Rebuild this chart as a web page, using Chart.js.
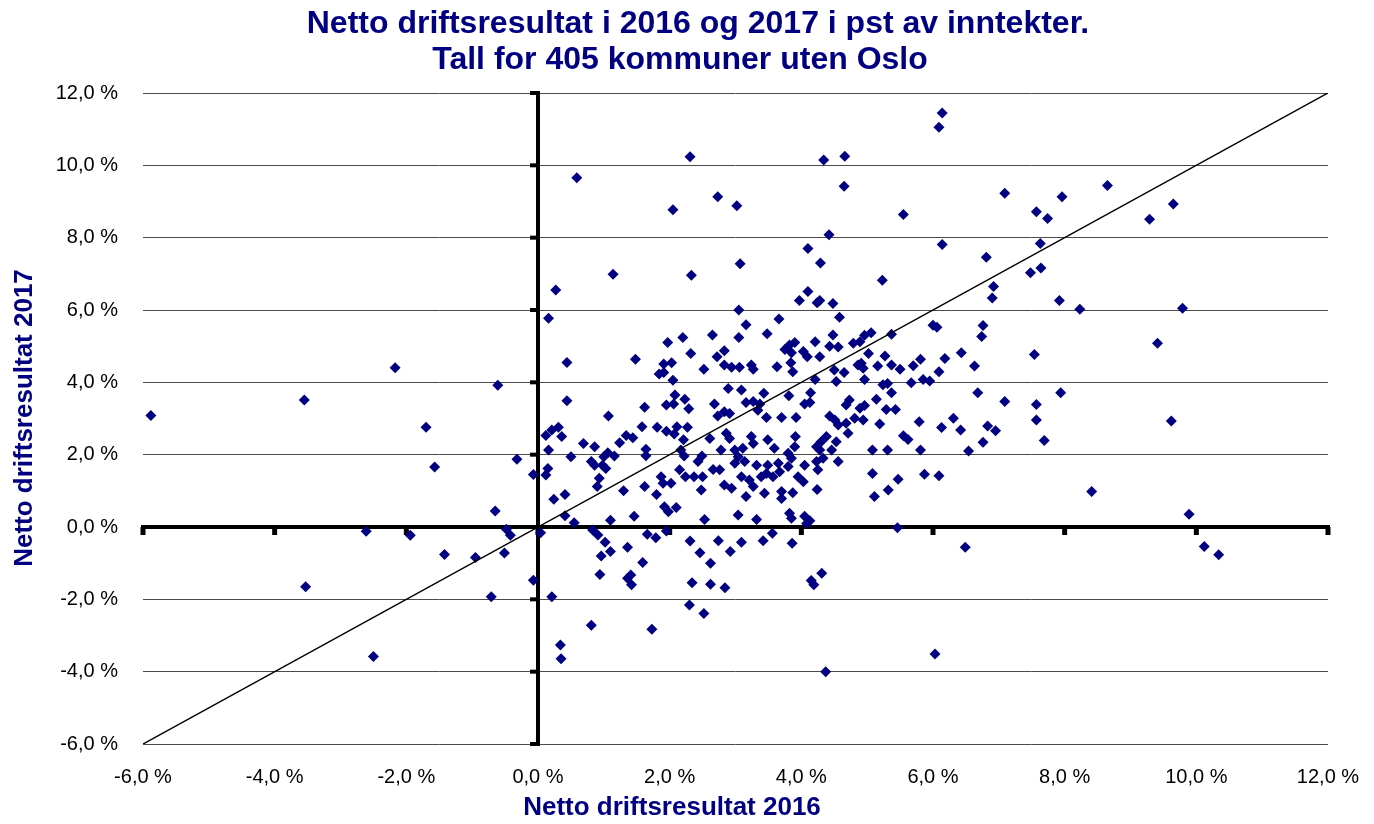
<!DOCTYPE html>
<html>
<head>
<meta charset="utf-8">
<script src="https://cdn.jsdelivr.net/npm/chart.js@4/dist/chart.umd.min.js"></script>
<style>
html,body{margin:0;padding:0;background:#fff;}
canvas{display:block;}
</style>
</head>
<body>
<canvas id="c" width="1374" height="824"></canvas>
<script>
const titleLines = ['Netto driftsresultat i 2016 og 2017 i pst av inntekter.', 'Tall for 405 kommuner uten Oslo'];
const xAxisTitle = 'Netto driftsresultat 2016';
const yAxisTitle = 'Netto driftsresultat 2017';
const tickValues = [-6, -4, -2, 0, 2, 4, 6, 8, 10, 12];
const tickLabels = ['-6,0 %', '-4,0 %', '-2,0 %', '0,0 %', '2,0 %', '4,0 %', '6,0 %', '8,0 %', '10,0 %', '12,0 %'];
const diagonalEnds = [-6, 12];

// Netto driftsresultat 2016 (x) and 2017 (y), per kommune, in percent
const result2016 = [
-5.88,-3.55,-2.17,-1.70,-1.57,-0.61,-0.32,-0.07,-0.65,-2.61,-1.94,-0.48,-0.42,-1.42,-0.95,-0.51,-0.07,-3.53,-0.71,-2.50,
2.31,0.59,2.05,1.14,2.33,0.27,0.16,
1.97,2.20,2.32,0.44,1.48,1.91,2.03,1.84,1.91,2.05,2.52,0.44,1.07,1.62,2.08,1.95,2.06,2.23,2.29,0.12,0.21,0.31,0.36,0.16,0.69,0.86,0.50,1.24,1.34,1.44,1.58,1.64,1.64,1.81,1.95,2.07,2.11,2.27,2.21,2.17,2.22,2.49,1.00,1.06,1.16,0.81,0.86,0.98,1.03,0.93,0.90,0.15,0.12,0.41,0.24,1.30,1.62,1.80,1.87,1.90,2.02,2.15,2.24,2.37,2.50,2.48,2.43,
0.41,0.55,1.10,1.46,1.92,1.98,2.10,2.53,0.04,0.83,0.91,1.02,0.96,1.10,1.36,1.66,1.79,1.95,1.59,0.94,1.36,1.41,1.42,2.31,2.46,2.34,0.21,2.30,2.52,0.81,1.73,0.34,0.35,
4.34,4.66,2.73,3.02,4.65,4.42,4.10,4.29,3.07,4.10,3.97,4.28,4.24,4.48,4.58,3.05,3.16,3.66,2.65,3.05,3.48,
2.83,2.72,2.83,2.94,3.06,3.24,3.27,3.63,3.75,3.82,3.90,3.85,3.84,3.87,4.03,4.09,4.21,4.28,4.48,4.43,4.56,4.79,4.89,4.91,4.50,4.65,4.21,4.53,4.96,2.89,3.09,3.43,3.81,4.14,2.68,3.16,3.27,3.37,3.34,4.05,4.13,2.73,2.83,2.91,3.47,3.70,3.92,4.73,4.68,4.89,4.43,4.51,4.56,4.68,4.81,4.71,4.53,4.94,2.61,2.86,2.91,3.24,3.27,3.49,3.59,3.91,3.90,3.80,3.85,4.23,4.30,4.38,4.28,4.33,4.23,4.46,4.56,4.05,4.25,2.78,2.99,3.04,3.11,2.99,3.14,3.32,3.49,3.65,3.67,3.80,3.95,4.03,2.66,2.76,3.09,3.21,3.39,3.47,3.57,3.27,2.83,2.94,3.16,3.44,3.70,3.70,4.24,
3.87,3.04,3.32,3.82,3.85,4.05,4.13,4.08,2.74,3.09,3.42,3.56,3.86,2.92,2.62,2.62,2.84,4.31,4.15,4.19,4.37,
6.14,6.09,7.09,5.55,6.14,6.81,5.23,6.92,6.90,6.00,6.06,6.76,6.74,4.96,5.06,5.37,
5.02,5.27,4.86,4.94,5.16,5.37,5.50,5.70,5.81,6.18,6.43,6.63,6.09,5.24,5.31,5.37,5.67,5.85,5.95,6.68,7.09,5.14,5.29,5.43,4.96,5.19,5.79,6.13,6.31,6.42,6.83,6.95,5.55,5.62,6.76,5.08,5.31,5.81,6.54,5.08,5.47,5.87,6.09,5.32,5.11,
5.46,6.49,6.03,
8.65,7.96,7.57,7.74,9.29,9.65,7.63,7.48,7.64,7.92,8.23,9.79,9.41,7.54,7.57,7.94,
7.57,7.69,9.62,8.41,9.89,10.12,10.34
];
const result2017 = [
3.08,3.51,4.40,2.76,1.66,3.92,1.87,1.45,0.44,-0.12,-0.23,-0.06,-0.23,-0.76,-0.84,-0.72,-1.47,-1.65,-1.93,-3.58,
10.24,9.66,8.77,6.99,6.96,6.55,5.77,
5.10,5.24,4.80,4.55,4.64,4.51,4.54,4.23,4.27,4.06,4.36,3.49,3.07,3.31,3.65,3.37,3.40,3.53,3.27,2.53,2.68,2.76,2.50,2.13,2.31,2.22,1.94,2.33,2.53,2.47,2.77,2.15,1.97,2.76,2.65,2.57,2.77,2.76,2.41,2.13,1.96,1.96,1.94,2.05,1.96,1.81,1.71,1.71,1.62,1.35,1.12,1.62,1.44,0.90,0.77,1.00,1.12,0.90,1.39,1.21,1.21,1.58,1.39,1.39,1.39,1.02,1.81,
0.31,0.12,0.19,0.30,0.56,0.42,0.54,0.21,-0.16,-0.08,-0.22,-0.42,-0.80,-0.68,-0.56,-0.20,-0.30,-0.11,-0.98,-1.31,-1.42,-1.33,-1.60,-0.39,-0.71,-1.54,-1.93,-2.16,-2.39,-2.72,-2.83,-3.26,-3.64,
10.15,10.25,9.13,8.88,9.42,8.08,7.70,7.30,7.28,6.51,6.26,6.26,6.20,6.18,5.80,6.00,5.59,5.75,5.31,5.24,5.34,
4.87,4.71,4.48,4.42,4.42,4.48,4.36,4.43,4.91,5.03,5.10,4.82,4.54,4.29,4.85,4.71,5.12,4.71,5.31,5.00,4.98,5.08,5.12,4.53,4.34,4.27,4.08,4.02,4.08,3.83,3.79,3.70,3.63,3.71,3.40,3.44,3.47,3.40,3.23,3.40,3.44,3.07,3.19,3.14,3.03,3.03,3.03,3.51,3.37,3.28,3.07,2.96,2.82,2.87,3.01,2.59,2.36,2.96,2.45,2.59,2.45,2.50,2.31,2.41,2.18,2.50,2.22,2.04,1.90,2.22,2.36,2.50,2.13,1.90,1.81,2.13,1.81,1.71,1.58,2.13,2.13,1.94,2.18,1.76,1.81,1.71,1.71,1.76,1.53,1.67,1.39,1.25,1.59,1.58,1.39,1.30,1.39,1.48,1.39,1.12,1.16,1.07,0.84,0.93,0.98,0.79,1.04,
0.95,0.33,0.21,0.38,0.24,0.30,0.17,0.10,-0.38,-0.42,-0.38,-0.17,-0.45,-0.68,-1.00,-1.58,-1.68,-1.28,-1.48,-1.60,-4.00,
11.45,11.05,9.23,8.64,7.81,7.46,6.82,6.65,6.33,5.58,5.52,5.57,5.27,5.30,5.37,5.33,
4.80,4.73,4.48,4.39,4.45,4.48,4.36,4.46,4.64,4.66,4.82,4.45,4.29,3.93,3.97,3.71,3.99,4.08,4.04,3.71,3.47,3.53,3.25,3.25,3.36,2.85,2.91,2.75,3.01,2.68,2.79,2.66,2.52,2.42,2.34,2.13,2.13,2.13,2.10,1.48,1.32,1.46,1.42,1.02,0.84,
-0.02,-0.56,-3.51,
9.44,9.13,8.72,8.53,8.51,8.93,7.84,7.03,7.16,6.26,6.02,6.05,5.08,4.77,3.39,3.71,
2.96,2.39,2.93,0.98,0.35,-0.54,-0.77
];

const NAVY = '#000080';
const FONT = 'Arial, "Liberation Sans", sans-serif';

const zeroAxes = {
  id: 'zeroAxes',
  beforeDatasetsDraw(chart) {
    const {ctx, scales: {x, y}} = chart;
    const x0 = x.getPixelForValue(0), y0 = y.getPixelForValue(0);
    const xl = x.getPixelForValue(tickValues[0]), xr = x.getPixelForValue(tickValues[tickValues.length - 1]);
    const yt = y.getPixelForValue(tickValues[tickValues.length - 1]), yb = y.getPixelForValue(tickValues[0]);
    ctx.save();
    ctx.fillStyle = '#000';
    ctx.fillRect(xl - 2, y0 - 2, xr - xl + 4, 4);
    ctx.fillRect(x0 - 2, yt - 2, 4, yb - yt + 4);
    tickValues.forEach(v => {
      const px = x.getPixelForValue(v);
      ctx.fillRect(px - 2.5, y0, 5, 8);
      const py = y.getPixelForValue(v);
      ctx.fillRect(x0 - 8, py - 2, 8, 4);
    });
    ctx.restore();
  }
};

const titles = {
  id: 'titles',
  afterDraw(chart) {
    const {ctx} = chart;
    ctx.save();
    ctx.fillStyle = NAVY;
    ctx.textAlign = 'center';
    ctx.textBaseline = 'middle';
    ctx.font = 'bold 32px ' + FONT;
    ctx.fillText(titleLines[0], 698, 24);
    ctx.fillText(titleLines[1], 680, 60);
    ctx.font = 'bold 26px ' + FONT;
    ctx.fillText(xAxisTitle, 672, 808);
    ctx.translate(25, 418);
    ctx.rotate(-Math.PI / 2);
    ctx.fillText(yAxisTitle, 0, 0);
    ctx.restore();
  }
};

new Chart(document.getElementById('c'), {
  data: {
    datasets: [
      {
        type: 'line',
        data: diagonalEnds.map(v => ({x: v, y: v})),
        borderColor: '#000',
        borderWidth: 1.5,
        pointRadius: 0,
        fill: false,
        order: 0
      },
      {
        type: 'scatter',
        data: result2016.map((v, i) => ({x: v, y: result2017[i]})),
        pointStyle: 'rectRot',
        pointRadius: 5.5,
        backgroundColor: NAVY,
        borderWidth: 0,
        order: 1
      }
    ]
  },
  options: {
    responsive: false,
    animation: false,
    devicePixelRatio: 1,
    layout: {padding: {top: 93, right: 46, bottom: 0, left: 0}},
    plugins: {legend: {display: false}, tooltip: {enabled: false}, title: {display: false}},
    scales: {
      x: {
        type: 'linear', min: -6, max: 12,
        afterBuildTicks: s => { s.ticks = tickValues.map(v => ({value: v})); },
        afterFit: s => { s.height = 80; s.paddingRight = 0; s.paddingLeft = 0; },
        grid: {display: false, drawTicks: false},
        border: {display: false},
        ticks: {padding: 21, color: '#000', font: {family: FONT, size: 20}, callback: (v, i) => tickLabels[i], maxRotation: 0, autoSkip: false}
      },
      y: {
        type: 'linear', min: -6, max: 12,
        afterBuildTicks: s => { s.ticks = tickValues.map(v => ({value: v})); },
        afterFit: s => { s.width = 143; s.paddingTop = 0; s.paddingBottom = 0; },
        grid: {color: '#4a4a4a', lineWidth: 1, drawTicks: false},
        border: {display: false},
        ticks: {padding: 25, color: '#000', font: {family: FONT, size: 20}, callback: (v, i) => tickLabels[i], autoSkip: false}
      }
    }
  },
  plugins: [zeroAxes, titles]
});
</script>
</body>
</html>
